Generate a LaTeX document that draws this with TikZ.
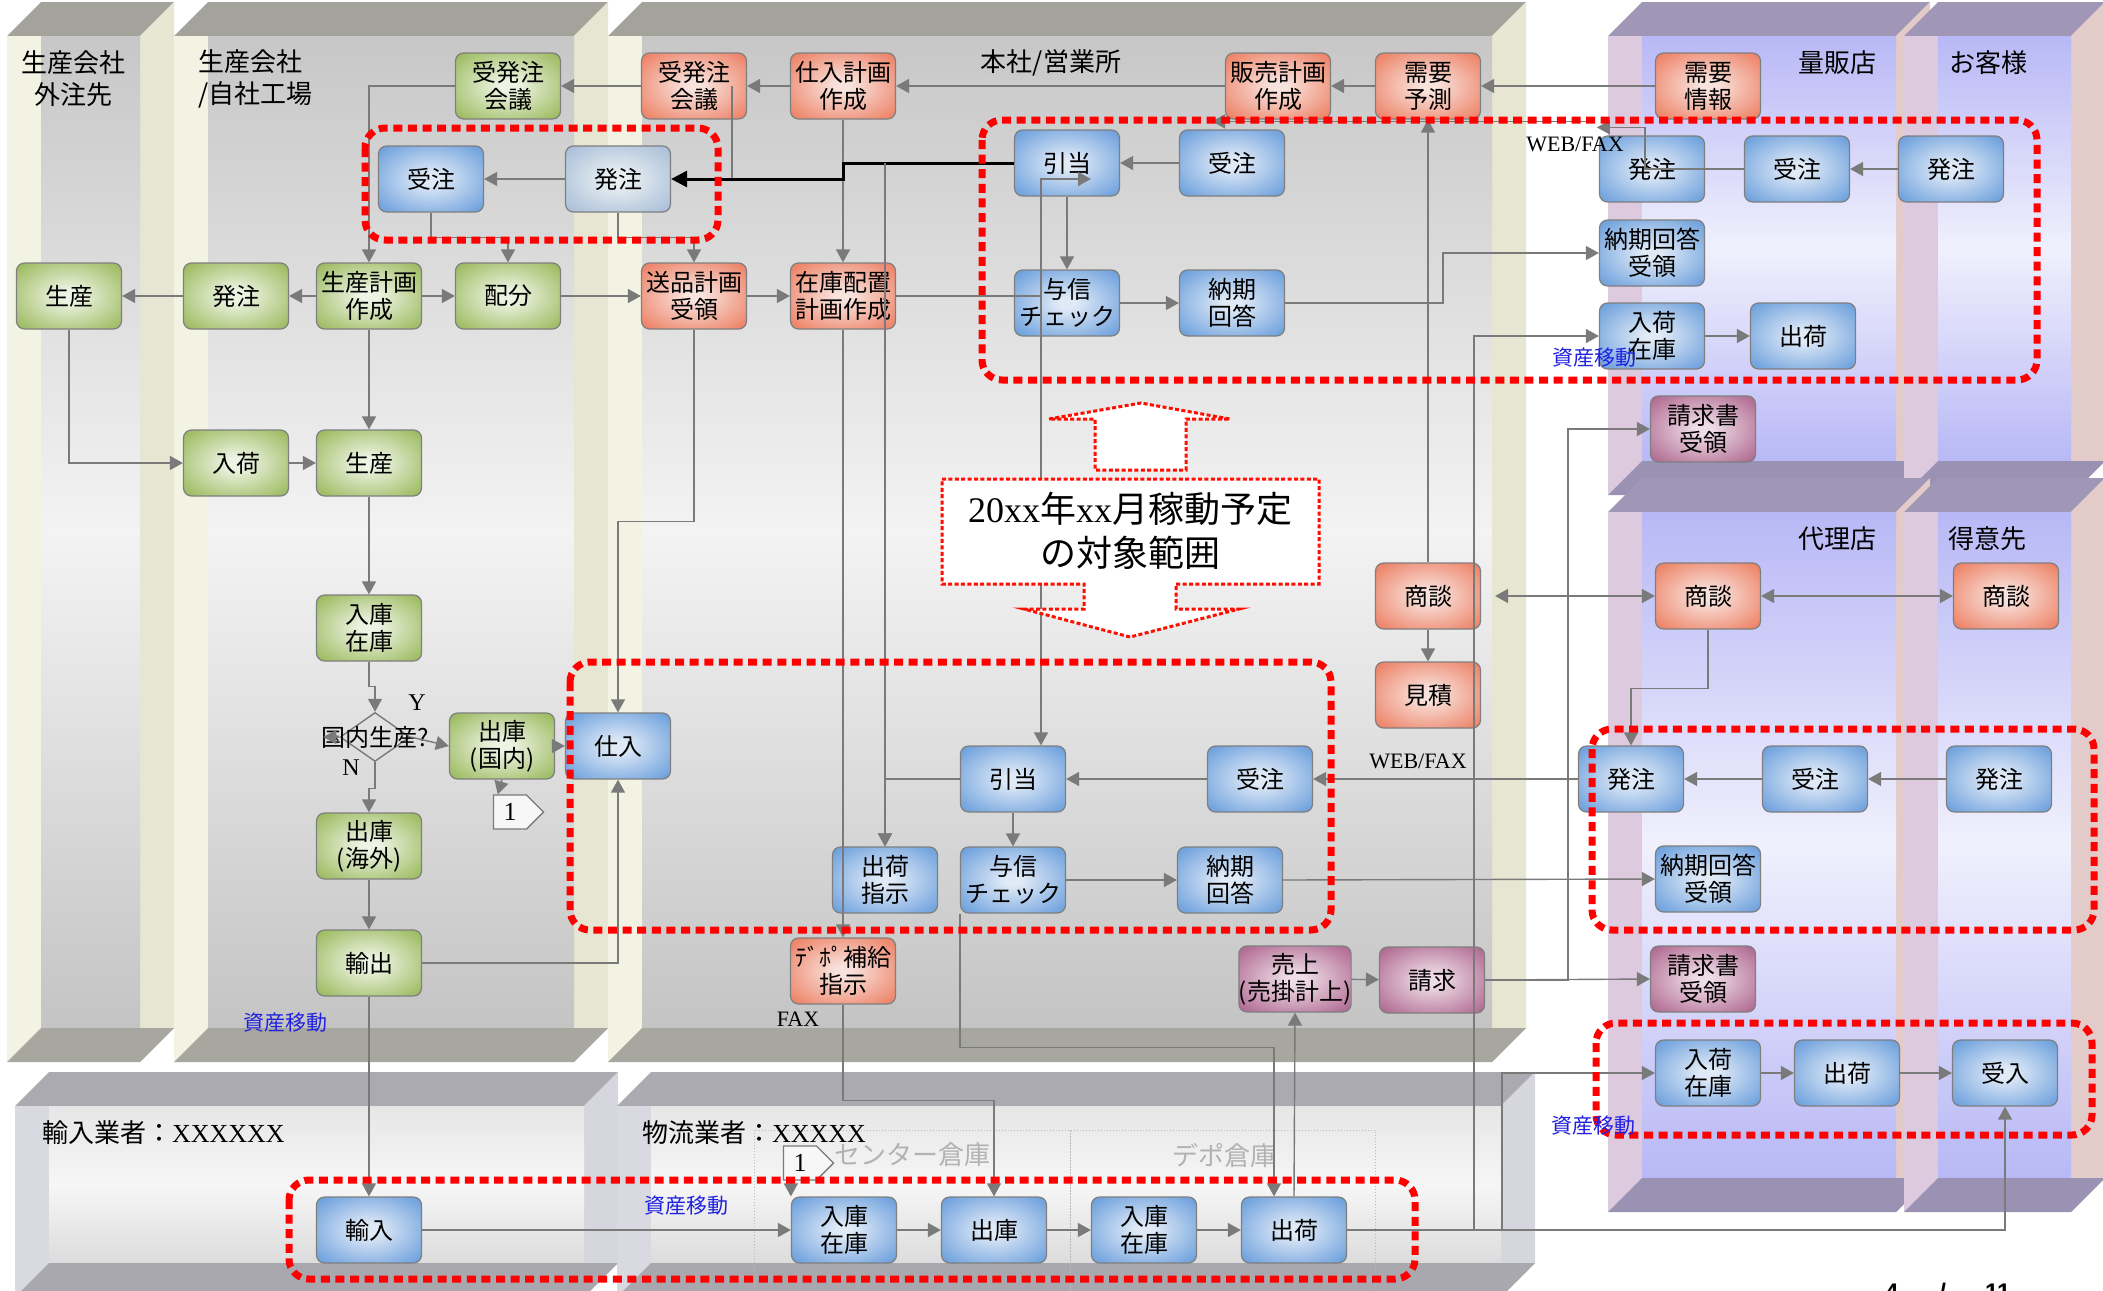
\documentclass[tikz,border=0pt]{standalone}
\usepackage{fontspec}
\setmainfont{Liberation Serif}
\newfontfamily\jp{Noto Sans CJK JP}
\newfontfamily\pgsans{Liberation Sans}
\usetikzlibrary{arrows.meta,calc,shapes.geometric,shapes.symbols}

% box colours
\definecolor{grnin}{HTML}{EEF4E4}\definecolor{grnout}{HTML}{94B553}
\definecolor{salin}{HTML}{F8E2DC}\definecolor{salout}{HTML}{EC785A}
\definecolor{bluin}{HTML}{E0EAF7}\definecolor{bluout}{HTML}{6299DA}
\definecolor{purin}{HTML}{EEDCE6}\definecolor{purout}{HTML}{AA5F89}
\definecolor{litin}{HTML}{EAF0F2}\definecolor{litout}{HTML}{A3BAD6}
\definecolor{boxline}{HTML}{7F7F7F}
\definecolor{lnkgray}{HTML}{7A7A7A}
\definecolor{assetblue}{HTML}{2020E0}
% lane colours
\definecolor{gltop}{HTML}{A3A39B}\definecolor{glside}{HTML}{E6E6D2}\definecolor{glstrip}{HTML}{F3F3E3}
\definecolor{glbt}{HTML}{C7C7C7}\definecolor{glbm}{HTML}{F3F3F3}\definecolor{glbb}{HTML}{C4C4C4}\definecolor{glbot}{HTML}{A7A79F}
\definecolor{bltop}{HTML}{9F97B5}\definecolor{blside}{HTML}{E3CBC9}\definecolor{blstrip}{HTML}{DDCADF}
\definecolor{blbt}{HTML}{B8B8F6}\definecolor{blbm}{HTML}{F0F0FD}\definecolor{blbb}{HTML}{B8B8F6}\definecolor{blbot}{HTML}{9A92B2}
\definecolor{wltop}{HTML}{AAAAB0}\definecolor{wlside}{HTML}{D6D6DE}\definecolor{wlstrip}{HTML}{D9D9E1}
\definecolor{wlbt}{HTML}{E6E6E6}\definecolor{wlbm}{HTML}{F6F6F6}\definecolor{wlbb}{HTML}{DCDCDC}\definecolor{wlbot}{HTML}{A8A8AE}

\pgfdeclareradialshading{grnglow}{\pgfpoint{0bp}{0bp}}{color(0bp)=(grnin); color(4bp)=(grnin); color(36bp)=(grnout); color(50bp)=(grnout)}
\pgfdeclareradialshading{salglow}{\pgfpoint{0bp}{0bp}}{color(0bp)=(salin); color(4bp)=(salin); color(36bp)=(salout); color(50bp)=(salout)}
\pgfdeclareradialshading{bluglow}{\pgfpoint{0bp}{0bp}}{color(0bp)=(bluin); color(4bp)=(bluin); color(36bp)=(bluout); color(50bp)=(bluout)}
\pgfdeclareradialshading{purglow}{\pgfpoint{0bp}{0bp}}{color(0bp)=(purin); color(4bp)=(purin); color(36bp)=(purout); color(50bp)=(purout)}
\pgfdeclareradialshading{litglow}{\pgfpoint{0bp}{0bp}}{color(0bp)=(litin); color(4bp)=(litin); color(36bp)=(litout); color(50bp)=(litout)}

% a see-through 3D lane: front left, front top, front right, front bottom, colour prefix
\newcommand{\swimlane}[5]{%
 \fill[#5top] (#1,#2) -- (#1+34,#2-34) -- (#3+34,#2-34) -- (#3,#2) -- cycle;
 \fill[#5side] (#3,#2) -- (#3+34,#2-34) -- (#3+34,#4-34) -- (#3,#4) -- cycle;
 \fill[#5strip] (#1,#2) rectangle (#1+34,#4);
 \shade[top color=#5bt, bottom color=#5bb, middle color=#5bm] (#1+34,#2) rectangle (#3,#4-34);
 \fill[#5bot] (#1,#4) -- (#1+34,#4-34) -- (#3+34,#4-34) -- (#3,#4) -- cycle;
}

\tikzset{
 box/.style={rounded corners=4pt, draw=boxline, line width=0.6pt, minimum width=52.5pt,
   minimum height=33pt, inner sep=0pt, align=center, font=\jp\fontsize{12}{13.5}\selectfont},
 grnbox/.style={box, shade, shading=grnglow},
 salbox/.style={box, shade, shading=salglow},
 blubox/.style={box, shade, shading=bluglow},
 purbox/.style={box, shade, shading=purglow},
 litbox/.style={box, shade, shading=litglow},
 lnk/.style={draw=lnkgray, line width=0.7pt},
 arr/.style={lnk, ->},
 blk/.style={draw=black, line width=1.5pt, -{Triangle[length=8pt,width=8pt]}},
 redzone/.style={draw=red, line width=3.5pt, dash pattern=on 4.5pt off 2.8pt, rounded corners=10pt},
 callout/.style={draw=red!90!orange, fill=white, line width=1.5pt, dash pattern=on 2pt off 1.2pt},
 lanetitle/.style={font=\jp\fontsize{13}{16}\selectfont, align=center},
 asset/.style={font=\jp\fontsize{10.5}{12}\selectfont, text=assetblue},
 medium/.style={font=\rmfamily\fontsize{11}{13}\selectfont},
 offpage/.style={signal, signal to=east, draw=lnkgray, line width=0.7pt, fill=white!94!gray,
   minimum width=25pt, minimum height=17pt, inner sep=0pt, font=\rmfamily\fontsize{13}{14}\selectfont},
}

\begin{document}
\begin{tikzpicture}[x=0.5pt, y=-0.5pt, >={Triangle[length=6.5pt,width=7pt]}]
\useasboundingbox (0,0) rectangle (2103,1290);
\clip (0,0) rectangle (2103,1290);

% lanes
\swimlane{7}{36}{140}{1062}{gl}
\swimlane{174}{36}{574}{1062}{gl}
\swimlane{608}{36}{1492}{1062}{gl}
\swimlane{1608}{36}{1896}{495}{bl}
\swimlane{1904}{36}{2071}{495}{bl}
\swimlane{1608}{512}{1896}{1212}{bl}
\swimlane{1904}{512}{2071}{1212}{bl}
\swimlane{15}{1106}{584}{1297}{wl}
\swimlane{617}{1106}{1501}{1297}{wl}
\draw[gray!55, densely dotted, line width=0.5pt] (754,1130) rectangle (1070,1300);
\draw[gray!55, densely dotted, line width=0.5pt] (1070,1130) rectangle (1375,1300);

% lane titles
\node[lanetitle] (tgaichu) at (73,79) {生産会社\\外注先};
\node[lanetitle, align=left, anchor=west] (tjisha) at (191,79) {生産会社\\/自社工場};
\node[lanetitle] (thonsha) at (1051,63) {本社/営業所};
\node[lanetitle] (tryohan) at (1837,63) {量販店};
\node[lanetitle] (tkyaku) at (1988,63) {お客様};
\node[lanetitle] (tdairi) at (1837,539) {代理店};
\node[lanetitle] (ttokui) at (1987,539) {得意先};
\node[lanetitle, anchor=west] (tyunyu) at (35,1133) {輸入業者：{\rmfamily XXXXXX}};
\node[lanetitle, anchor=west] (tbutsu) at (635,1133) {物流業者：{\rmfamily XXXXX}};
\node[lanetitle, text=gray!60] (tcenter) at (912,1155) {センター倉庫};
\node[lanetitle, text=gray!60] (tdepot) at (1224,1155) {デポ倉庫};

% boxes, top row
\node[grnbox] (gkaigi) at (508,86) {受発注\\会議};
\node[salbox] (skaigi) at (694,86) {受発注\\会議};
\node[salbox] (shiire) at (843,86) {仕入計画\\作成};
\node[salbox] (hanbai) at (1278,86) {販売計画\\作成};
\node[salbox] (juyo) at (1428,86) {需要\\予測};
\node[salbox] (jouho) at (1708,86) {需要\\情報};

\node[blubox] (fjuchu) at (431,179) {受注};
\node[litbox] (fhatchu) at (618,179) {発注};
\node[blubox] (hikiate1) at (1067,163) {引当};
\node[blubox] (juchu1) at (1232,163) {受注};
\node[blubox] (ryhatchu) at (1652,169) {発注};
\node[blubox] (ryjuchu) at (1797,169) {受注};
\node[blubox] (kyhatchu) at (1951,169) {発注};
\node[blubox] (rynouki) at (1652,253) {納期回答\\受領};
\node[blubox] (ryniyuka) at (1652,336) {入荷\\在庫};
\node[blubox] (ryshukka) at (1803,336) {出荷};
\node[purbox] (ryseikyu) at (1703,429) {請求書\\受領};

\node[grnbox] (seisanA) at (69,296) {生産};
\node[grnbox] (hatchuB) at (236,296) {発注};
\node[grnbox] (seikei) at (369,296) {生産計画\\作成};
\node[grnbox] (haibun) at (508,296) {配分};
\node[salbox] (sohin) at (694,296) {送品計画\\受領};
\node[salbox] (zaiko) at (843,296) {在庫配置\\計画作成};
\node[blubox] (yoshin1) at (1067,303) {与信\\チェック};
\node[blubox] (nouki1) at (1232,303) {納期\\回答};

% factory flow
\node[grnbox] (nyuka) at (236,463) {入荷};
\node[grnbox] (seisanB) at (369,463) {生産};
\node[grnbox] (nyuko) at (369,628) {入庫\\在庫};
\node[diamond, draw=lnkgray, line width=0.7pt, minimum width=35pt, minimum height=24.5pt, inner sep=0pt] (kokunai) at (375,737) {};
\node[font=\jp\fontsize{12}{13}\selectfont] (kokunaitxt) at (375,737) {国内生産?};
\node[font=\rmfamily\fontsize{12}{13}\selectfont] (yes) at (417,703) {Y};
\node[font=\rmfamily\fontsize{12}{13}\selectfont] (no) at (351,768) {N};
\node[grnbox] (shukoku) at (502,746) {出庫\\(国内)};
\node[blubox] (shiire2) at (618,746) {仕入};
\node[offpage] (page1) at (510,812) {1};
\node[grnbox] (shukai) at (369,846) {出庫\\(海外)};
\node[grnbox] (yushutsu) at (369,963) {輸出};

% head office, middle
\node[blubox] (hikiate2) at (1013,779) {引当};
\node[blubox] (juchu2) at (1260,779) {受注};
\node[blubox] (shiji) at (885,880) {出荷\\指示};
\node[blubox] (yoshin2) at (1013,880) {与信\\チェック};
\node[blubox] (nouki2) at (1230,880) {納期\\回答};
\node[salbox] (depo) at (843,971) {ﾃﾞﾎﾟ補給\\指示};
\node[purbox] (uriage) at (1295,979) {売上\\(売掛計上)};
\node[purbox] (seikyu) at (1432,980) {請求};
\node[salbox] (shodanC) at (1428,596) {商談};
\node[salbox] (mitsumori) at (1428,695) {見積};

% agents and clients
\node[salbox] (shodanF) at (1708,596) {商談};
\node[salbox] (shodanG) at (2006,596) {商談};
\node[blubox] (dahatchu) at (1631,779) {発注};
\node[blubox] (dajuchu) at (1815,779) {受注};
\node[blubox] (tkhatchu) at (1999,779) {発注};
\node[blubox] (danouki) at (1708,879) {納期回答\\受領};
\node[purbox] (daseikyu) at (1703,979) {請求書\\受領};
\node[blubox] (danyuka) at (1708,1073) {入荷\\在庫};
\node[blubox] (dashukka) at (1847,1073) {出荷};
\node[blubox] (tkukeire) at (2005,1073) {受入};

% logistics
\node[blubox] (yunyu) at (369,1230) {輸入};
\node[blubox] (cnyuko) at (844,1230) {入庫\\在庫};
\node[blubox] (cshuko) at (994,1230) {出庫};
\node[blubox] (dnyuko) at (1144,1230) {入庫\\在庫};
\node[blubox] (dshukka) at (1294,1230) {出荷};
\node[offpage] (page1b) at (800,1163) {1};

% connectors, top
\draw[arr] (jouho) -- (juyo);
\draw[arr] (juyo) -- (hanbai);
\draw[arr] (hanbai) -- (shiire);
\draw[arr] (shiire) -- (skaigi);
\draw[arr] (skaigi) -- (gkaigi);
\draw[arr] (gkaigi.west) -| (seikei.north);
\draw[lnk] ($(skaigi.center)+(38,0)$) -- ++(0,93);
\draw[arr] (shiire) -- (zaiko);
\draw[blk] (hikiate1.west) -- ++(-170,0) |- (fhatchu.east);
\draw[arr] (shiji.north |- hikiate1.west) -- (shiji.north);
\draw[arr] (fhatchu) -- (fjuchu);
\draw[arr] (fjuchu.south) -- ++(0,25) -| (haibun.north);
\draw[arr] (fhatchu.south) -- ++(0,25) -| (sohin.north);
\draw[arr] (juchu1) -- (hikiate1);
\draw[arr] (hikiate1) -- (yoshin1);
\draw[lnk, <->] ($(hikiate1.center)+(24,16)$) -| ($(hikiate2.north)+(28,0)$);
\draw[arr] (yoshin1) -- (nouki1);
\draw[arr] (nouki1.east) -- ++(158,0) |- (rynouki.west);
\draw[arr] (ryjuchu.west) -- ++(-99,0) |- ($(ryhatchu.north west)+(-2,-8)$);
\draw[arr] ($(ryhatchu.north west)+(-10,-14)$) -- ($(juchu1.north)+(-20,-8)$);
\draw[arr] (kyhatchu) -- (ryjuchu);
\draw[arr] (ryniyuka) -- (ryshukka);

% connectors, factory
\draw[arr] (seikei) -- (haibun);
\draw[arr] (haibun) -- (sohin);
\draw[arr] (sohin) -- (zaiko);
\draw[lnk] (zaiko.east) -- ++(145,0);
\draw[arr] (seikei) -- (hatchuB);
\draw[arr] (hatchuB) -- (seisanA);
\draw[arr] (seisanA.south) |- (nyuka.west);
\draw[arr] (nyuka) -- (seisanB);
\draw[arr] (seikei) -- (seisanB);
\draw[arr] (seisanB) -- (nyuko);
\draw[arr] (nyuko.south) -- ++(0,25) -| (kokunai.north);
\draw[arr] (kokunai.south) -- ++(0,26) -| (shukai.north);
\draw[arr] (kokunai.east) -- (shukoku.west);
\draw[arr] (kokunai.west) -- ++(-16,0);
\draw[arr] (shukoku) -- (shiire2);
\draw[arr] (shukoku.south) -- ($(page1.north west)+(5,0)$);
\draw[arr] (sohin.south) -- ++(0,192) -| (shiire2.north);
\draw[arr] (shukai) -- (yushutsu);
\draw[arr] (yushutsu.east) -| (shiire2.south);
\draw[arr] (yushutsu) -- (yunyu);

% connectors, head office middle
\draw[arr] (juchu2) -- (hikiate2);
\draw[arr] (hikiate2) -- (yoshin2);
\draw[arr] (hikiate2.west) -| (shiji.north);
\draw[arr] (yoshin2) -- (nouki2);
\draw[arr] (nouki2.east) -- (danouki.west);
\draw[arr] (zaiko.south) -- (depo.north);
\draw[arr] (depo.south) -- ++(0,96) -| (cshuko.north);
\draw[arr] (yoshin2.south west) -- ++(0,134) -| ($(dshukka.north)+(-20,0)$);
\draw[arr] (dshukka.north) -- (uriage.south);
\draw[arr] (uriage) -- (seikyu);
\draw[arr] (seikyu.east) -- (daseikyu.west);
\draw[arr] (seikyu.east) -- ++(83,0) |- (ryseikyu.west);
\draw[arr] (shodanC) -- (mitsumori);
\draw[arr] (shodanC) -- (juyo);
\draw[lnk, <->] ($(shodanC.east)+(14,0)$) -- (shodanF.west);
\draw[lnk, <->] (shodanF) -- (shodanG);
\draw[arr] (shodanF.south) -- ++(0,59) -| (dahatchu.north);
\draw[arr] (dahatchu) -- (juchu2);
\draw[arr] (dajuchu) -- (dahatchu);
\draw[arr] (tkhatchu) -- (dajuchu);
\draw[arr] (danyuka) -- (dashukka);
\draw[arr] (dashukka) -- (tkukeire);

% connectors, logistics
\draw[arr] (yunyu) -- (cnyuko);
\draw[arr] (cnyuko) -- (cshuko);
\draw[arr] (cshuko) -- (dnyuko);
\draw[arr] (dnyuko) -- (dshukka);
\draw[arr] (page1b.south west -| cnyuko.north west) -- (cnyuko.north west);
\draw[arr] (dshukka.east) -| (tkukeire.south);
\draw[arr] (dshukka.east) -- ++(127,0) |- (ryniyuka.west);
\draw[arr] (dshukka.east) -- ++(155,0) |- (danyuka.west);

% scope callout
\draw[callout] (1049,419) -- (1141,403) -- (1230,419) -- (1186,419) -- (1186,470) -- (1095,470) -- (1095,419) -- cycle;
\draw[callout] (942,479) -- (1319,479) -- (1319,584) -- (1176,584) -- (1176,609) -- (1239,609) -- (1130,637)
  -- (1024,609) -- (1084,609) -- (1084,584) -- (942,584) -- cycle;
\node[font=\jp\fontsize{18}{22}\selectfont, align=center] (scopetxt) at (1130,531) {{\rmfamily 20xx}年{\rmfamily xx}月稼動予定\\の対象範囲};

% red zones
\draw[redzone] (365,128) rectangle (718,240);
\draw[redzone] (982,120) rectangle (2037,380);
\draw[redzone] (570,662) rectangle (1331,930);
\draw[redzone] (1592,729) rectangle (2094,930);
\draw[redzone] (1596,1023) rectangle (2092,1135);
\draw[redzone] (289,1180) rectangle (1415,1279);

% notes
\node[asset] (asset1) at (285,1023) {資産移動};
\node[asset] (asset2) at (1594,358) {資産移動};
\node[asset] (asset3) at (1593,1126) {資産移動};
\node[asset] (asset4) at (686,1206) {資産移動};
\node[medium] (web1) at (1575,144) {WEB/FAX};
\node[medium] (web2) at (1418,761) {WEB/FAX};
\node[medium] (fax) at (798,1019) {FAX};
\node[anchor=base west, font=\pgsans\bfseries\fontsize{12}{14}\selectfont] (pageno) at (1878,1300) {4\hspace{20.5pt}/\hspace{19.5pt}11};
\end{tikzpicture}
\end{document}
